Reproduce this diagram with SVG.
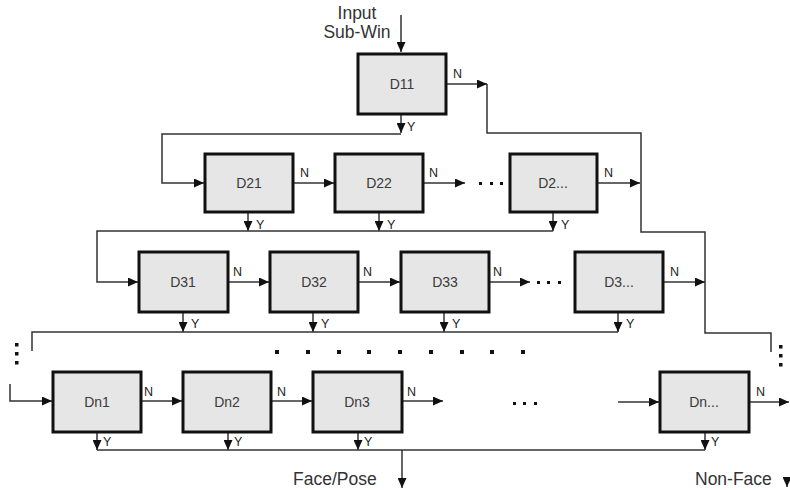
<svg xmlns="http://www.w3.org/2000/svg" width="790" height="490" viewBox="0 0 790 490">
  <style>
    .box { fill: #e6e6e6; stroke: #111; stroke-width: 3; }
    .lbl { font-family: "Liberation Sans", Arial, sans-serif; font-size: 14px; fill: #3a3a3a; text-anchor: middle; }
    .tag { font-family: "Liberation Sans", Arial, sans-serif; font-size: 12.5px; fill: #222; }
    .cap { font-family: "Liberation Sans", Arial, sans-serif; font-size: 17.5px; fill: #333; }
    .wire { fill: none; stroke: #333; stroke-width: 1.5; }
    .arr { marker-end: url(#head); }
    .dot { fill: #111; }
  </style>
  <defs>
    <marker id="head" markerUnits="userSpaceOnUse" markerWidth="11" markerHeight="9" refX="10" refY="4.5" orient="auto">
      <path d="M0,0 L10,4.5 L0,9 z" fill="#111"/>
    </marker>
  </defs>

  <!-- connectors -->
  <g id="connectors">
    <path class="wire arr" d="M401,15 V52"/>
    <path class="wire arr" d="M401,115 V133"/>
    <path class="wire arr" d="M447,84 H487"/>
    <path class="wire" d="M487,84 V133 H641 V232 H705 V333 H771 V352"/>
    <path class="wire arr" d="M401,134 H162 V183 H204"/>

    <path class="wire arr" d="M294,183 H334"/>
    <path class="wire arr" d="M424,183 H465"/>
    <path class="wire arr" d="M598,183 H640"/>
    <path class="wire arr" d="M248,213 V231"/>
    <path class="wire arr" d="M379,213 V231"/>
    <path class="wire arr" d="M553,213 V231"/>
    <path class="wire arr" d="M553,231 H97 V282 H138"/>

    <path class="wire arr" d="M229,282 H269"/>
    <path class="wire arr" d="M359,282 H400"/>
    <path class="wire arr" d="M490,282 H530"/>
    <path class="wire arr" d="M664,282 H705"/>
    <path class="wire arr" d="M183,313 V332"/>
    <path class="wire arr" d="M313,313 V332"/>
    <path class="wire arr" d="M444,313 V332"/>
    <path class="wire arr" d="M618,313 V332"/>
    <path class="wire" d="M618,332 H32 V351"/>

    <path class="wire arr" d="M10,384 V401 H52"/>
    <path class="wire arr" d="M142,401 H182"/>
    <path class="wire arr" d="M272,401 H312"/>
    <path class="wire arr" d="M403,401 H443"/>
    <path class="wire arr" d="M618,402 H659"/>
    <path class="wire arr" d="M750,402 H789"/>
    <path class="wire arr" d="M97,433 V450"/>
    <path class="wire arr" d="M228,433 V450"/>
    <path class="wire arr" d="M358,433 V450"/>
    <path class="wire arr" d="M705,433 V450"/>
    <path class="wire" d="M97,450 H705"/>
    <path class="wire arr" d="M402,450 V488"/>
    <path class="wire arr" d="M787,479 V487"/>
  </g>

  <!-- branch labels -->
  <g id="tags">
    <text class="tag" x="453" y="78">N</text>
    <text class="tag" x="407" y="131">Y</text>

    <text class="tag" x="300" y="177">N</text>
    <text class="tag" x="429" y="177">N</text>
    <text class="tag" x="604" y="177">N</text>
    <text class="tag" x="256" y="229">Y</text>
    <text class="tag" x="387" y="229">Y</text>
    <text class="tag" x="561" y="229">Y</text>

    <text class="tag" x="233" y="276">N</text>
    <text class="tag" x="363" y="276">N</text>
    <text class="tag" x="493" y="276">N</text>
    <text class="tag" x="670" y="276">N</text>
    <text class="tag" x="191" y="328">Y</text>
    <text class="tag" x="321" y="328">Y</text>
    <text class="tag" x="452" y="328">Y</text>
    <text class="tag" x="626" y="328">Y</text>

    <text class="tag" x="144" y="396">N</text>
    <text class="tag" x="277" y="396">N</text>
    <text class="tag" x="407" y="396">N</text>
    <text class="tag" x="756" y="396">N</text>
    <text class="tag" x="103" y="446">Y</text>
    <text class="tag" x="234" y="446">Y</text>
    <text class="tag" x="364" y="446">Y</text>
    <text class="tag" x="711" y="446">Y</text>
  </g>

  <!-- ellipsis marks -->
  <g id="ellipses">
    <rect class="dot" x="479" y="182" width="3" height="3"/>
    <rect class="dot" x="490" y="182" width="3" height="3"/>
    <rect class="dot" x="500" y="182" width="3" height="3"/>
    <rect class="dot" x="537" y="281" width="3" height="3"/>
    <rect class="dot" x="547" y="281" width="3" height="3"/>
    <rect class="dot" x="558" y="281" width="3" height="3"/>
    <rect class="dot" x="513" y="402" width="3" height="3"/>
    <rect class="dot" x="523" y="402" width="3" height="3"/>
    <rect class="dot" x="534" y="402" width="3" height="3"/>
    <rect class="dot" x="15" y="343" width="3.5" height="3.5"/>
    <rect class="dot" x="15" y="352" width="3.5" height="3.5"/>
    <rect class="dot" x="15" y="361" width="3.5" height="3.5"/>
    <rect class="dot" x="779" y="345" width="3.5" height="3.5"/>
    <rect class="dot" x="779" y="354" width="3.5" height="3.5"/>
    <rect class="dot" x="779" y="363" width="3.5" height="3.5"/>
    <rect class="dot" x="275" y="350" width="4" height="4"/>
    <rect class="dot" x="306" y="350" width="4" height="4"/>
    <rect class="dot" x="337" y="350" width="4" height="4"/>
    <rect class="dot" x="367" y="350" width="4" height="4"/>
    <rect class="dot" x="398" y="350" width="4" height="4"/>
    <rect class="dot" x="429" y="350" width="4" height="4"/>
    <rect class="dot" x="460" y="350" width="4" height="4"/>
    <rect class="dot" x="490" y="350" width="4" height="4"/>
    <rect class="dot" x="521" y="350" width="4" height="4"/>
  </g>

  <!-- captions -->
  <g id="captions">
    <text class="cap" x="357" y="19" text-anchor="middle">Input</text>
    <text class="cap" x="357" y="38" text-anchor="middle">Sub-Win</text>
    <text class="cap" x="293" y="485">Face/Pose</text>
    <text class="cap" x="695" y="485">Non-Face</text>
  </g>

  <!-- classifier stages -->
  <g id="D11"><rect class="box" x="358" y="54" width="88" height="60"/><text class="lbl" x="402" y="89">D11</text></g>

  <g id="D21"><rect class="box" x="205" y="154" width="88" height="58"/><text class="lbl" x="249" y="188">D21</text></g>
  <g id="D22"><rect class="box" x="335" y="154" width="88" height="58"/><text class="lbl" x="379" y="188">D22</text></g>
  <g id="D2x"><rect class="box" x="510" y="154" width="87" height="58"/><text class="lbl" x="553" y="188">D2...</text></g>

  <g id="D31"><rect class="box" x="139" y="252" width="89" height="60"/><text class="lbl" x="183" y="287">D31</text></g>
  <g id="D32"><rect class="box" x="270" y="252" width="88" height="60"/><text class="lbl" x="314" y="287">D32</text></g>
  <g id="D33"><rect class="box" x="401" y="252" width="88" height="60"/><text class="lbl" x="445" y="287">D33</text></g>
  <g id="D3x"><rect class="box" x="575" y="252" width="88" height="60"/><text class="lbl" x="619" y="287">D3...</text></g>

  <g id="Dn1"><rect class="box" x="53" y="372" width="88" height="60"/><text class="lbl" x="97" y="407">Dn1</text></g>
  <g id="Dn2"><rect class="box" x="183" y="372" width="88" height="60"/><text class="lbl" x="227" y="407">Dn2</text></g>
  <g id="Dn3"><rect class="box" x="313" y="372" width="89" height="60"/><text class="lbl" x="357" y="407">Dn3</text></g>
  <g id="Dnx"><rect class="box" x="660" y="372" width="89" height="60"/><text class="lbl" x="704" y="407">Dn...</text></g>
</svg>
